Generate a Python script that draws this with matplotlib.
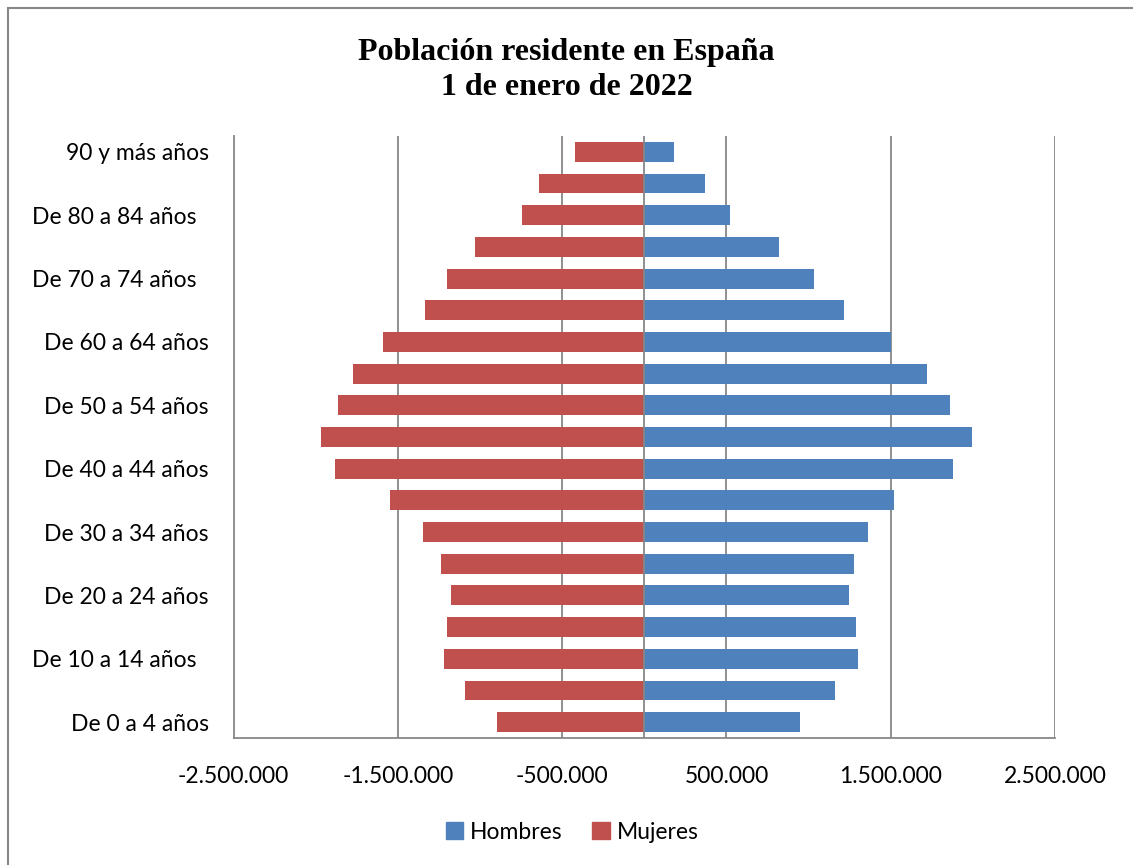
import numpy as np
import matplotlib
matplotlib.use("Agg")
import matplotlib.pyplot as plt
from matplotlib.patches import Patch, Rectangle
from matplotlib.ticker import FuncFormatter

# grupos de edad (de menor a mayor)
grupos = ["De 0 a 4 años", "De 5 a 9 años", "De 10 a 14 años  ", "De 15 a 19 años",
          "De 20 a 24 años", "De 25 a 29 años", "De 30 a 34 años", "De 35 a 39 años",
          "De 40 a 44 años", "De 45 a 49 años", "De 50 a 54 años", "De 55 a 59 años",
          "De 60 a 64 años", "De 65 a 69 años", "De 70 a 74 años  ", "De 75 a 79 años",
          "De 80 a 84 años  ", "De 85 a 89 años", "90 y más años"]

hombres = [946000, 1159000, 1303000, 1287000, 1248000, 1274000, 1360000, 1522000,
           1881000, 1996000, 1862000, 1721000, 1502000, 1215000, 1035000, 822000,
           520000, 371000, 181000]

mujeres = [-895000, -1091000, -1221000, -1201000, -1175000, -1235000, -1349000, -1548000,
           -1881000, -1970000, -1866000, -1771000, -1590000, -1337000, -1199000, -1029000,
           -744000, -639000, -420000]

ticks_x = [-2500000, -1500000, -500000, 500000, 1500000, 2500000]

azul = "#4F81BD"
rojo = "#C0504D"
gris = "#878787"

fig = plt.figure(figsize=(11.33, 8.65), dpi=100)
ax = fig.add_axes([0.2061, 0.1468, 0.7251, 0.696])

y = np.arange(len(grupos))
ax.barh(y, hombres, height=0.63, color=azul, zorder=3)
ax.barh(y, mujeres, height=0.63, color=rojo, zorder=3)

ax.set_xlim(-2500000, 2500000)
ax.set_ylim(-0.5, len(grupos) - 0.5)

for t in ticks_x[1:]:
    ax.axvline(t, color=gris, lw=1.3, zorder=1)
ax.axvline(0, color=gris, lw=1.3, zorder=4)

ax.set_xticks(ticks_x)
ax.xaxis.set_major_formatter(FuncFormatter(lambda v, p: f"{int(v):,}".replace(",", ".")))
ax.set_yticks(y[::2])
ax.set_yticklabels([grupos[i] for i in y[::2]])

for s in ["top", "right"]:
    ax.spines[s].set_visible(False)
for s in ["left", "bottom"]:
    ax.spines[s].set_color(gris)
    ax.spines[s].set_linewidth(1.3)

ax.tick_params(axis="both", length=0, labelsize=16.5)
ax.tick_params(axis="x", pad=20)
ax.tick_params(axis="y", pad=18)
for lab in ax.get_xticklabels() + ax.get_yticklabels():
    lab.set_family("Lato")

fig.text(0.5, 0.919, "Población residente en España\n1 de enero de 2022",
         ha="center", va="center", fontsize=23, fontweight="bold",
         family="Liberation Serif", linespacing=1.3)

handles = [Patch(color=azul, label="Hombres"), Patch(color=rojo, label="Mujeres")]
fig.legend(handles=handles, loc="center", bbox_to_anchor=(0.505, 0.038), ncol=2,
           frameon=False, handlelength=0.75, handleheight=0.75, handletextpad=0.3,
           columnspacing=1.3, prop={"family": "Lato", "size": 16.5})

# borde del grafico
fig.patches.append(Rectangle((8 / 1133, -0.1), 1.2, 1.1 - 8 / 865,
                             transform=fig.transFigure, fill=False,
                             edgecolor=gris, lw=1.5))

fig.savefig("out.png", dpi=100)
